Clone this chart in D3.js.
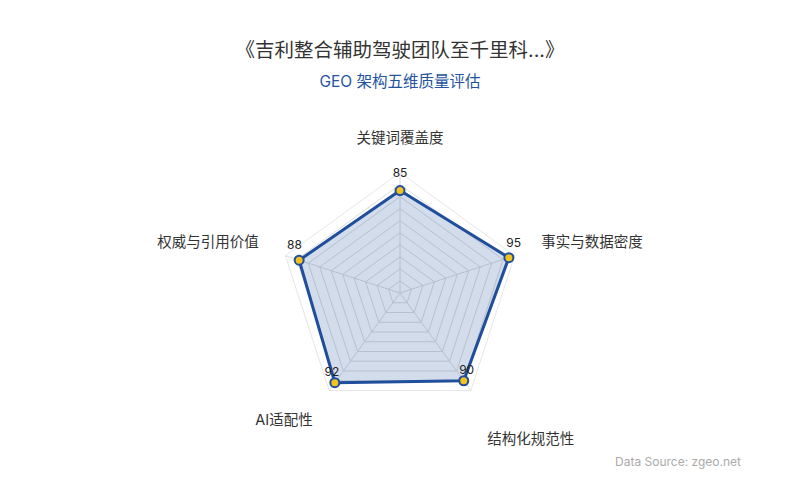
<!DOCTYPE html>
<html>
<head>
<meta charset="utf-8">
<script src="https://cdn.jsdelivr.net/npm/d3@7"></script>
<style>
  html, body { margin: 0; padding: 0; background: #fff; }
  svg { display: block; font-family: Inter, "Noto Sans CJK SC", sans-serif; }
</style>
</head>
<body>
<svg id="chart" width="800" height="500"></svg>
<script>
// ---- data ----
const titleText = "《吉利整合辅助驾驶团队至千里科...》";
const subtitleText = "GEO 架构五维质量评估";
const sourceText = "Data Source: zgeo.net";
const indicators = ["关键词覆盖度", "事实与数据密度", "结构化规范性", "AI适配性", "权威与引用价值"];
const values = [85, 95, 90, 92, 88];
const maxValue = 100;
const ringLevels = [10, 20, 30, 40, 50, 60, 70, 80, 90, 100];

// ---- layout ----
const svg = d3.select("#chart");
const cx = 400, cy = 293, R = 120.5;
const blue = "#1f4e9c";

const r = d3.scaleLinear().domain([0, maxValue]).range([0, R]);
const angle = d3.scalePoint().domain(indicators).range([0, 2 * Math.PI * (indicators.length - 1) / indicators.length]);
const ang = name => angle(name) - Math.PI / 2;
const pt = (name, v) => [cx + r(v) * Math.cos(ang(name)), cy + r(v) * Math.sin(ang(name))];

// title
svg.append("text").attr("x", 400).attr("y", 57).attr("text-anchor", "middle")
  .attr("font-size", 19.5).attr("fill", "#333").text(titleText);
svg.append("text").attr("x", 400).attr("y", 87).attr("text-anchor", "middle")
  .attr("font-size", 15.5).attr("fill", "#2553a0").text(subtitleText);

// grid rings
const g = svg.append("g");
g.selectAll("polygon.ring").data(ringLevels).join("polygon")
  .attr("class", "ring")
  .attr("points", lv => indicators.map(n => pt(n, lv).join(",")).join(" "))
  .attr("fill", "none")
  .attr("stroke", lv => lv === maxValue ? "#e6e6e6" : "#dcdcdc")
  .attr("stroke-width", 1);

// axis lines
g.selectAll("line.axis").data(indicators).join("line")
  .attr("class", "axis")
  .attr("x1", cx).attr("y1", cy)
  .attr("x2", n => pt(n, maxValue)[0]).attr("y2", n => pt(n, maxValue)[1])
  .attr("stroke", "#dcdcdc").attr("stroke-width", 1);

// data area
const pts = indicators.map((n, i) => pt(n, values[i]));
g.append("polygon")
  .attr("points", pts.map(p => p.join(",")).join(" "))
  .attr("fill", blue).attr("fill-opacity", 0.2)
  .attr("stroke", blue).attr("stroke-width", 3).attr("stroke-linejoin", "round");

// points
g.selectAll("circle.pt").data(indicators).join("circle")
  .attr("class", "pt")
  .attr("cx", (n, i) => pt(n, values[i])[0])
  .attr("cy", (n, i) => pt(n, values[i])[1])
  .attr("r", 4.5)
  .attr("fill", "#f2c31c").attr("stroke", blue).attr("stroke-width", 2);

// value labels
g.selectAll("text.val").data(indicators).join("text")
  .attr("class", "val")
  .attr("x", (n, i) => pt(n, values[i])[0] + 5 * Math.cos(ang(n)))
  .attr("y", (n, i) => pt(n, values[i])[1] - 10 + 3.5 * Math.sin(ang(n)))
  .attr("text-anchor", "middle")
  .attr("font-size", 12).attr("fill", "#222")
  .text((n, i) => values[i]);

// indicator names
const nameR = R + 28;
g.selectAll("text.name").data(indicators).join("text")
  .attr("class", "name")
  .attr("x", n => cx + nameR * Math.cos(ang(n)))
  .attr("y", (n, i) => {
    const y = cy + nameR * Math.sin(ang(n));
    const s = Math.sin(ang(n));
    if (s < -0.9) return y - 2;          // top
    if (s < 0) return y - 0;             // upper sides
    return y + (Math.cos(ang(n)) > 0 ? 31 : 12); // lower
  })
  .attr("text-anchor", n => {
    const c = Math.cos(ang(n));
    return Math.abs(c) < 0.01 ? "middle" : (c > 0 ? "start" : "end");
  })
  .attr("font-size", 14.5).attr("fill", "#333")
  .text(n => n);

// source
svg.append("text").attr("x", 741).attr("y", 466).attr("text-anchor", "end")
  .attr("font-size", 12).attr("fill", "#aaa").text(sourceText);
</script>
</body>
</html>
